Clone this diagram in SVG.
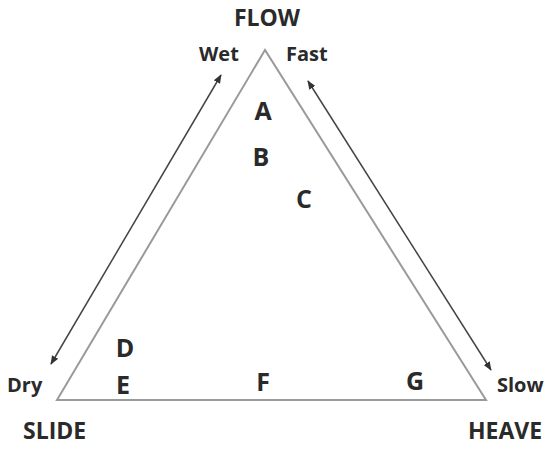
<svg xmlns="http://www.w3.org/2000/svg" width="552" height="452" viewBox="0 0 552 452">
<defs>
<style>
text{font-family:"Open Sans","Liberation Sans",sans-serif;font-weight:bold;fill:#2a2a2a;}
.lab{font-size:20px;}
.big{font-size:23px;}
.let{font-size:25px;text-anchor:middle;}
.tri{fill:none;stroke:#9a9a9a;stroke-width:2;}
.arr{stroke:#444;stroke-width:1.5;marker-start:url(#ah);marker-end:url(#ah);}
</style>
<marker id="ah" viewBox="0 0 10 10" refX="9" refY="5" markerWidth="6" markerHeight="6" orient="auto-start-reverse">
<path d="M0,1 L10,5 L0,9 z" fill="#333"/>
</marker>
</defs>
<rect width="552" height="452" fill="#fff"/>
<g id="triangle"><polygon class="tri" points="265,50 57,400 486,400"/></g>
<g id="connectors">
<line class="arr" x1="221" y1="75" x2="51" y2="364"/>
<line class="arr" x1="308" y1="81" x2="491" y2="370"/>
</g>
<g id="labels">
<text class="big" x="267" y="26" text-anchor="middle">FLOW</text>
<text class="lab" x="199" y="61">Wet</text>
<text class="lab" x="286" y="61">Fast</text>
<text class="lab" x="7" y="392">Dry</text>
<text class="lab" x="497" y="392">Slow</text>
<text class="big" x="23" y="439">SLIDE</text>
<text class="big" x="468" y="439">HEAVE</text>
</g>
<g id="letters">
<text class="let" x="263" y="120">A</text>
<text class="let" x="261" y="166">B</text>
<text class="let" x="304" y="208">C</text>
<text class="let" x="125" y="357">D</text>
<text class="let" x="123" y="394">E</text>
<text class="let" x="263" y="391">F</text>
<text class="let" x="415" y="390">G</text>
</g>
</svg>
